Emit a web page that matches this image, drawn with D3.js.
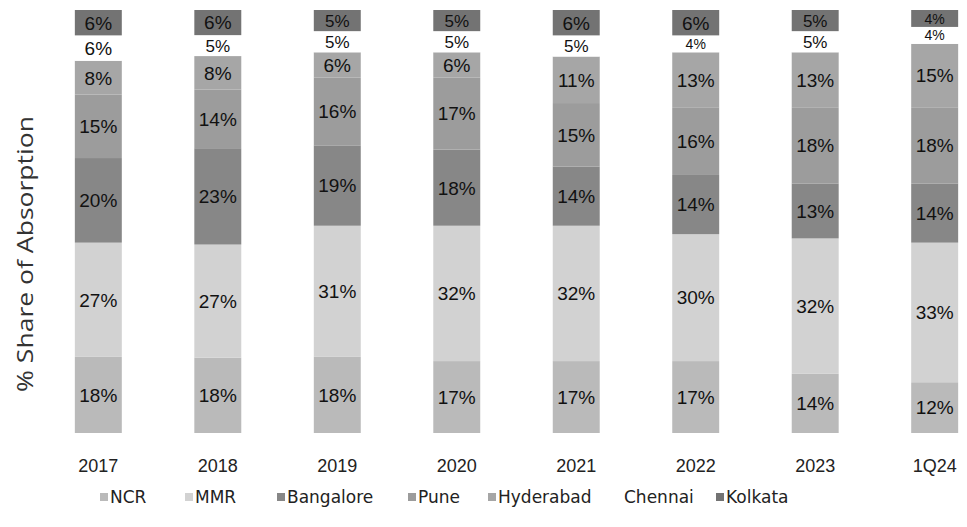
<!DOCTYPE html>
<html lang="en">
<head>
    <title>% Share of Absorption</title>
    <script src="https://cdnjs.cloudflare.com/ajax/libs/d3/7.8.5/d3.min.js"></script>
    <style>
        body { margin: 0; background: #fff; }
        svg { display: block; }
        .seg-label { font-family: "Liberation Sans", Arial, sans-serif; fill: #111; }
        .tick-label { font-family: "Liberation Sans", Arial, sans-serif; font-size: 18px; fill: #222; }
        .legend text { font-family: "DejaVu Sans", sans-serif; font-size: 17px; fill: #222; }
        .y-title { font-family: "Open Sans", sans-serif; font-size: 21px; fill: #333; }
    </style>
</head>
<body>
    <svg width="967" height="527"></svg>

    <script>
        // data
        const periods = ["2017", "2018", "2019", "2020", "2021", "2022", "2023", "1Q24"];
        const cities = ["NCR", "MMR", "Bangalore", "Pune", "Hyderabad", "Chennai", "Kolkata"];
        const ncr       = [18, 18, 18, 17, 17, 17, 14, 12];
        const mmr       = [27, 27, 31, 32, 32, 30, 32, 33];
        const bangalore = [20, 23, 19, 18, 14, 14, 13, 14];
        const pune      = [15, 14, 16, 17, 15, 16, 18, 18];
        const hyderabad = [8, 8, 6, 6, 11, 13, 13, 15];
        const chennai   = [6, 5, 5, 5, 5, 4, 5, 4];
        const kolkata   = [6, 6, 5, 5, 6, 6, 5, 4];
        const colors = ["#bababa", "#d2d2d2", "#878787", "#9c9c9c", "#a6a6a6", "#ffffff", "#737373"];

        const series = [ncr, mmr, bangalore, pune, hyderabad, chennai, kolkata];
        const rows = periods.map((p, i) => {
            const r = { period: p };
            cities.forEach((c, j) => r[c] = series[j][i]);
            return r;
        });

        const svg = d3.select("svg");

        const x = d3.scaleBand()
            .domain(periods)
            .range([39, 994])
            .paddingInner(0.607)
            .paddingOuter(0.3);

        const y = d3.scaleLinear()
            .domain([0, 1])
            .range([433, 10]);

        const color = d3.scaleOrdinal().domain(cities).range(colors);

        const stacked = d3.stack()
            .keys(cities)
            .offset(d3.stackOffsetExpand)(rows);

        const layer = svg.append("g")
            .selectAll("g")
            .data(stacked)
            .join("g")
            .attr("fill", d => color(d.key));

        layer.selectAll("rect")
            .data(d => d.map(v => Object.assign(v, { key: d.key })))
            .join("rect")
            .attr("x", d => x(d.data.period))
            .attr("y", d => y(d[1]))
            .attr("width", x.bandwidth())
            .attr("height", d => y(d[0]) - y(d[1]));

        // thin segments get a smaller label so neighbours don't collide
        layer.selectAll("text")
            .data(d => d)
            .join("text")
            .attr("class", "seg-label")
            .attr("x", d => x(d.data.period) + x.bandwidth() / 2)
            .attr("y", d => (y(d[0]) + y(d[1])) / 2)
            .attr("dy", "0.36em")
            .attr("text-anchor", "middle")
            .style("font-size", d => Math.min(19, Math.floor((y(d[0]) - y(d[1])) * 0.85)) + "px")
            .text(d => d.data[d.key] + "%");

        // category axis labels
        svg.append("g")
            .selectAll("text")
            .data(periods)
            .join("text")
            .attr("class", "tick-label")
            .attr("x", d => x(d) + x.bandwidth() / 2)
            .attr("y", 472)
            .attr("text-anchor", "middle")
            .text(d => d);

        // y title
        svg.append("text")
            .attr("class", "y-title")
            .attr("transform", "translate(33,254) rotate(-90)")
            .attr("text-anchor", "middle")
            .attr("textLength", 276)
            .attr("lengthAdjust", "spacingAndGlyphs")
            .text("% Share of Absorption");

        // legend
        const legendX = [100, 185, 277, 408, 488, 614, 716];
        const legend = svg.append("g")
            .attr("class", "legend")
            .selectAll("g")
            .data(cities)
            .join("g")
            .attr("transform", (d, i) => `translate(${legendX[i]},503)`);

        legend.append("rect")
            .attr("y", -10)
            .attr("width", 8)
            .attr("height", 8)
            .attr("fill", d => color(d));

        legend.append("text")
            .attr("x", 10)
            .text(d => d);
    </script>
</body>
</html>
